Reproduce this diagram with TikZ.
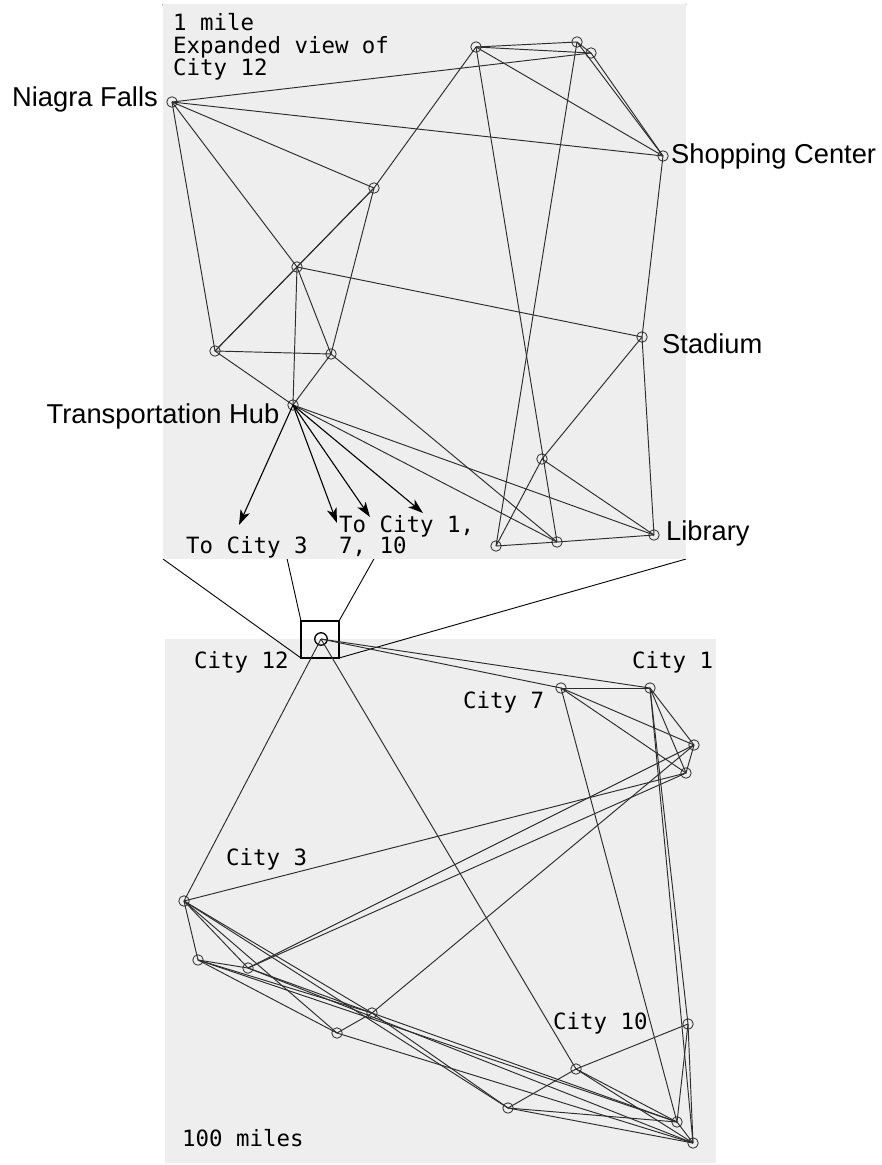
\documentclass[tikz,border=0pt]{standalone}
\usepackage{fontspec}
\setmainfont{Liberation Sans}
\setmonofont{DejaVu Sans Mono}
\usetikzlibrary{arrows.meta}
\definecolor{panelgray}{RGB}{238,238,238}
\definecolor{edgegray}{RGB}{45,45,45}
\begin{document}
\begin{tikzpicture}[x=1pt,y=-1pt,
  site/.style={circle,draw=edgegray,line width=0.8pt,inner sep=0pt,minimum size=10.5pt},
  hubsite/.style={circle,draw=black,line width=1.3pt,inner sep=0pt,minimum size=12.5pt},
  road/.style={draw=edgegray,line width=0.95pt},
  route/.style={draw=black,line width=1.1pt,-{Stealth[length=15pt,width=10pt,inset=4pt]}},
  place/.style={font=\fontsize{27.3}{30}\selectfont,inner sep=0pt},
  tag/.style={font=\ttfamily\fontsize{22.4}{24}\selectfont,inner sep=0pt},
  zoomline/.style={draw=black,line width=0.9pt}]
\useasboundingbox (0,0) rectangle (882,1165);

% regional map panel
\fill[panelgray] (165,639) rectangle (716,1163);

% magnifier box around City 12 and its projection lines
\coordinate (boxTL) at (301,621);
\coordinate (boxTR) at (339,621);
\coordinate (boxBL) at (301,658);
\coordinate (boxBR) at (339,658);
\coordinate (panelTL) at (163,4);
\coordinate (panelTR) at (686,4);
\coordinate (panelBL) at (163,559);
\coordinate (panelBR) at (686,559);
\draw[zoomline] (boxTL) -- (panelTL);
\draw[zoomline] (boxTR) -- (panelTR);
\draw[zoomline] (boxBL) -- (panelBL);
\draw[zoomline] (boxBR) -- (panelBR);

% city detail panel
\fill[panelgray] (panelTL) rectangle (panelBR);
\draw[line width=1.2pt] (boxTL) rectangle (boxBR);

% ---- city detail: sites ----
\node[site] (nf) at (172,102) {};
\node[site] (ta) at (476,47) {};
\node[site] (tb) at (577,42) {};
\node[site] (tc) at (591,53) {};
\node[site] (sc) at (663,156) {};
\node[site] (td) at (374,188) {};
\node[site] (te) at (297,267) {};
\node[site] (tf) at (215,351) {};
\node[site] (tg) at (331,354) {};
\node[site] (st) at (642,337) {};
\node[site] (th) at (293,405) {};
\node[site] (tk) at (542,459) {};
\node[site] (ti) at (496,546) {};
\node[site] (tj) at (557,542) {};
\node[site] (lib) at (654,535) {};

\foreach \a/\b in {nf/tc,nf/sc,nf/td,nf/te,nf/tf,ta/td,td/te,tf/td,tf/te,td/tg,
  te/st,te/tg,te/th,tf/tg,tf/th,tg/th,tg/tj,th/lib,th/tj,ta/tb,ta/tc,ta/sc,ta/tj,
  tb/ti,tb/tc,tb/sc,tc/sc,sc/st,st/lib,st/tk,tk/ti,tk/lib,ti/tj,tj/lib}
  \draw[road] (\a.center) -- (\b.center);

% routes leaving the transportation hub
\coordinate (toA) at (239,525);
\coordinate (toB) at (337,523);
\coordinate (toC) at (370,517);
\coordinate (toD) at (423,513);
\foreach \t in {toA,toB,toC,toD}
  \draw[route] (th.center) -- (\t);

% ---- city detail: labels ----
\node[tag,anchor=base west] (lscale) at (173,30) {1 mile};
\node[tag,anchor=base west] (ltitle) at (173,53) {Expanded view of};
\node[tag,anchor=base west] (ltitleb) at (173,75) {City 12};
\node[place,anchor=base east] (lnf) at (158,106) {Niagra Falls};
\node[place,anchor=base west] (lsc) at (671,163) {Shopping Center};
\node[place,anchor=base west] (lst) at (662,353) {Stadium};
\node[place,anchor=base west] (llib) at (666,540) {Library};
\node[place,anchor=base east] (lth) at (279.5,423) {Transportation Hub};
\node[tag,anchor=base west] (lto3) at (186,553) {To City 3};
\node[tag,anchor=base west] (lto1) at (339,532) {To City 1,};
\node[tag,anchor=base west] (lto7) at (339,553) {7, 10};

% ---- regional map: sites ----
\node[hubsite] (c12) at (321,639) {};
\node[site] (c7) at (561,688) {};
\node[site] (c1) at (650,688) {};
\node[site] (bp) at (694,745) {};
\node[site] (bq) at (686,773) {};
\node[site] (c3) at (184,901) {};
\node[site] (br) at (198,960) {};
\node[site] (bs) at (248,968) {};
\node[site] (bt) at (372,1013) {};
\node[site] (bu) at (337,1033) {};
\node[site] (bv) at (508,1108) {};
\node[site] (c10) at (576,1069) {};
\node[site] (bw) at (688,1024) {};
\node[site] (bx) at (677,1122) {};
\node[site] (by) at (693,1143) {};

\foreach \a/\b in {c12/c3,c12/c10,c12/c1,c12/c7,
  c7/c1,c7/bp,c7/bq,c7/bx,
  c1/bp,c1/bq,c1/bw,c1/by,bp/bq,
  c3/bq,c3/br,c3/bs,c3/bu,c3/bt,c3/bv,
  bs/bp,bs/bq,br/bs,br/bt,br/bu,br/bx,bs/bt,bs/by,
  bt/bp,bt/bu,bt/bx,bt/bv,bu/by,
  bv/c10,bv/bx,bv/by,c10/bw,c10/bx,c10/by,bw/bx,bw/by,bx/by}
  \draw[road] (\a.center) -- (\b.center);

% ---- regional map: labels ----
\node[tag,anchor=base west] (lc12) at (194,668) {City 12};
\node[tag,anchor=base west] (lc1) at (632,668) {City 1};
\node[tag,anchor=base west] (lc7) at (463,708) {City 7};
\node[tag,anchor=base west] (lc3) at (226,865) {City 3};
\node[tag,anchor=base west] (lc10) at (553,1029) {City 10};
\node[tag,anchor=base west] (lmiles) at (182,1146) {100 miles};
\end{tikzpicture}
\end{document}
